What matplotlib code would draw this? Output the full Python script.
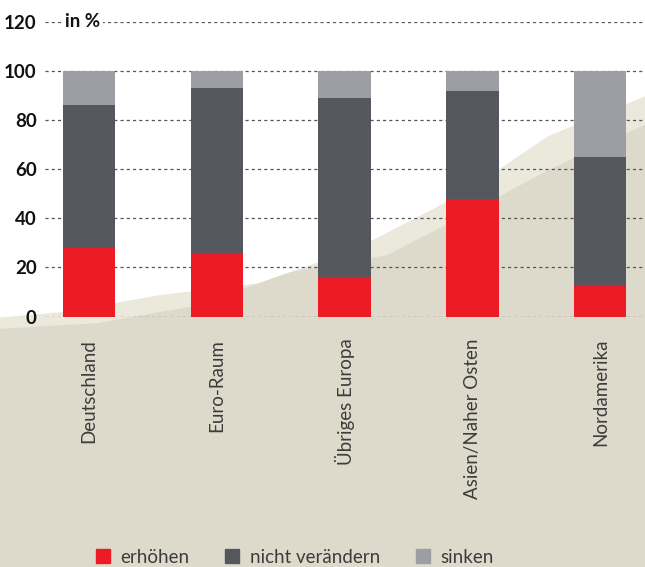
import matplotlib.pyplot as plt
from matplotlib.patches import Patch, Polygon
import numpy as np

regions = ["Deutschland", "Euro-Raum", "Übriges Europa", "Asien/Naher Osten", "Nordamerika"]
erhoehen = [28, 26, 16, 48, 13]
nicht_veraendern = [58, 67, 73, 44, 52]
sinken = [14, 7, 11, 8, 35]
y_ticks = [0, 20, 40, 60, 80, 100, 120]

RED = "#ed1c24"
DARK = "#55575f"
LIGHT = "#9d9ea3"
BEIGE = "#dedacb"
PALE = "#ebe8dc"

plt.rcParams["font.family"] = ["Lato", "DejaVu Sans"]

fig = plt.figure(figsize=(6.45, 5.67), dpi=100)
fig.patch.set_facecolor("white")

# beige textured background (approximated by flat shapes)
pale = Polygon([(0, 0), (1, 0), (1, 0.83), (0.85, 0.76), (0.72, 0.66), (0.55, 0.56),
                (0.40, 0.50), (0.25, 0.48), (0.10, 0.45), (0, 0.44)],
               closed=True, transform=fig.transFigure, facecolor=PALE,
               edgecolor="none", zorder=-2)
bg = Polygon([(0, 0), (1, 0), (1, 0.78), (0.85, 0.70), (0.72, 0.62), (0.60, 0.55),
              (0.45, 0.52), (0.30, 0.46), (0.15, 0.43), (0, 0.42)],
             closed=True, transform=fig.transFigure, facecolor=BEIGE,
             edgecolor="none", zorder=-1)
fig.patches.extend([pale, bg])

ax = fig.add_axes([45 / 645, 250.5 / 567, 600 / 645, 294.6 / 567])
ax.set_zorder(1)
ax.patch.set_alpha(0)

x = np.arange(len(regions))
w = 0.41
b1 = np.array(erhoehen)
b2 = b1 + np.array(nicht_veraendern)
ax.bar(x, erhoehen, w, color=RED, zorder=3)
ax.bar(x, nicht_veraendern, w, bottom=b1, color=DARK, zorder=3)
ax.bar(x, sinken, w, bottom=b2, color=LIGHT, zorder=3)

ax.set_xlim(-0.345, 4.35)
ax.set_ylim(0, 120)
ax.set_yticks(y_ticks)
ax.set_yticklabels([str(v) for v in y_ticks], fontsize=13.5, fontweight="bold", color="#111111")
ax.yaxis.grid(True, linestyle=(0, (2.5, 2.5)), color="#555555", linewidth=0.9, zorder=1)
ax.set_axisbelow(True)
ax.tick_params(axis="y", length=0, pad=6)
ax.set_xticks(x)
ax.set_xticklabels(regions, rotation=90, fontsize=13.5, color="#3c3c3c", va="top")
ax.tick_params(axis="x", length=0, pad=16)
for s in ax.spines.values():
    s.set_visible(False)

ax.text(-0.19, 120, "in %", fontsize=13.5, fontweight="bold", va="center", ha="left",
        color="#111111", zorder=4,
        bbox=dict(facecolor="white", edgecolor="none", pad=2))

handles = [Patch(color=RED, label="erhöhen"),
           Patch(color=DARK, label="nicht verändern"),
           Patch(color=LIGHT, label="sinken")]
fig.legend(handles=handles, loc="center", bbox_to_anchor=(0.457, 0.017), ncol=3,
           frameon=False, handlelength=0.75, handleheight=0.75,
           handletextpad=0.55, columnspacing=1.9, labelcolor="#3c3c3c",
           prop={"size": 13.5})

fig.savefig("out.png", dpi=100)
